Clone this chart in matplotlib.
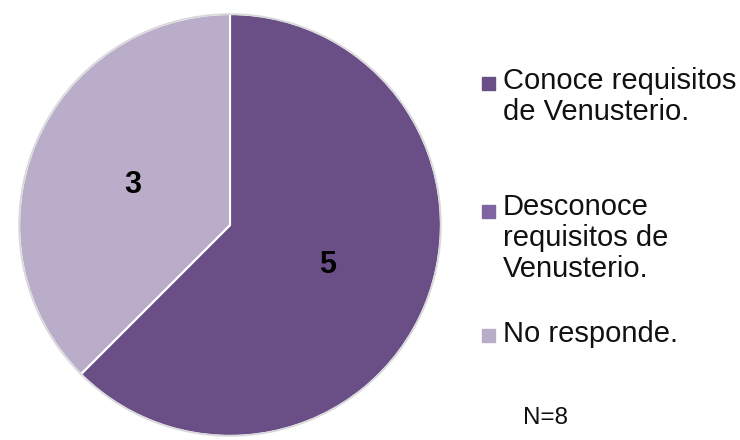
import matplotlib
matplotlib.use("Agg")
from matplotlib import pyplot as plt
from matplotlib.patches import Rectangle

plt.rcParams["font.family"] = ["Liberation Sans", "DejaVu Sans"]

# data
categories = ["Conoce requisitos\nde Venusterio.",
              "Desconoce\nrequisitos de\nVenusterio.",
              "No responde."]
values = [5, 0, 3]
colors = ["#6a4f87", "#8064a2", "#b9adca"]
note = "N=8"

W, H = 740, 440
fig = plt.figure(figsize=(W / 100, H / 100), dpi=100)

# pie centred at (230, 225) px with radius 213 px
cx, cy, r = 230, 225, 213
ax = fig.add_axes([(cx - r) / W, (H - cy - r) / H, 2 * r / W, 2 * r / H])
total = sum(values)
wedges, _, autotexts = ax.pie(values, colors=colors, startangle=90, counterclock=False,
                              radius=1.0, pctdistance=0.5,
                              autopct=lambda p: "%d" % round(p * total / 100) if p > 0 else "",
                              wedgeprops=dict(edgecolor="white", linewidth=1.5),
                              textprops=dict(fontsize=22, fontweight="bold", color="black"))
ax.set_xlim(-1.01, 1.01)
ax.set_ylim(-1.01, 1.01)
ax.set_aspect("equal")

# outer rim, slightly grey like the original
rim = plt.Circle((0, 0), 1.0, fill=False, edgecolor="#d8d8d8", linewidth=1.2)
ax.add_patch(rim)

# legend drawn by hand (uneven gaps in the original)
baselines = [90, 218, 342]
line_h = 29.5
for lab, col, yb in zip(categories, colors, baselines):
    n = lab.count("\n")
    fig.patches.append(Rectangle((482 / W, 1 - yb / H), 13 / W, 13 / H,
                                 transform=fig.transFigure, color=col))
    # baseline alignment uses the last line, so shift down
    fig.text(503 / W, 1 - (yb + n * line_h) / H, lab, fontsize=21, color="#111111",
             va="baseline", ha="left", linespacing=1.13)

fig.text(523 / W, 1 - 424 / H, note, fontsize=17.5, color="#111111", va="baseline", ha="left")

fig.savefig("out.png", dpi=100)
